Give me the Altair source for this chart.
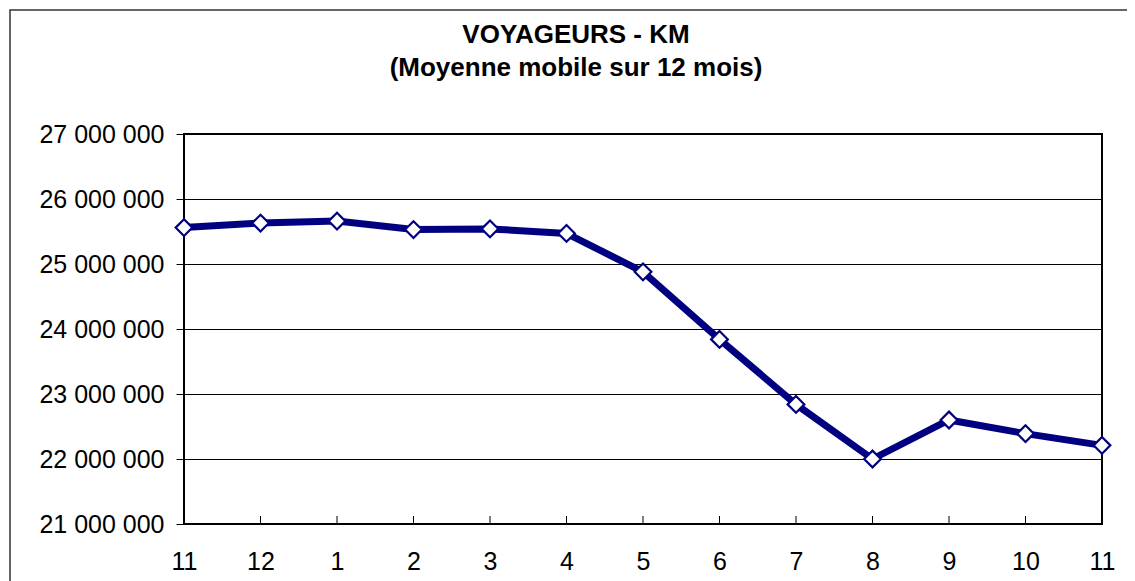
import altair as alt
import pandas as pd

FONT = "Liberation Sans, Arial, sans-serif"

months = ["11", "12", "1", "2", "3", "4", "5", "6", "7", "8", "9", "10", "11"]
values = [25560000, 25630000, 25660000, 25530000, 25540000, 25470000,
          24880000, 23840000, 22840000, 22000000, 22600000, 22390000, 22210000]
y_ticks = [21000000, 22000000, 23000000, 24000000, 25000000, 26000000, 27000000]
title_lines = ["VOYAGEURS - KM", "(Moyenne mobile sur 12 mois)"]

df = pd.DataFrame({"idx": list(range(len(months))), "month": months, "value": values})
frame = pd.DataFrame({"a": [0]})

label_expr = "[" + ",".join(f"'{m}'" for m in months) + "][datum.value]"

W, H = 918, 390
NAVY = "#000080"

x_enc = alt.X(
    "idx:Q",
    scale=alt.Scale(domain=[0, len(months) - 1], nice=False, zero=False),
    axis=alt.Axis(values=list(range(len(months))), labelExpr=label_expr, tickSize=0,
                  labelPadding=25, labelFlush=False, labelOverlap=False,
                  domain=False, grid=False, title=None,
                  labelFontSize=25, labelColor="black", labelFont=FONT),
)
y_enc = alt.Y(
    "value:Q",
    scale=alt.Scale(domain=[y_ticks[0], y_ticks[-1]], nice=False, zero=False),
    axis=alt.Axis(values=y_ticks,
                  labelExpr="replace(format(datum.value, ',d'), /,/g, ' ')",
                  tickSize=8, tickColor="black", labelPadding=12, grid=True,
                  gridColor="black", gridWidth=1, gridOpacity=1, domain=False,
                  labelFlush=False, labelOverlap=False,
                  title=None, labelFontSize=25, labelColor="black", labelFont=FONT),
)

base = alt.Chart(df)

line = base.mark_line(color=NAVY, strokeWidth=7).encode(x=x_enc, y=y_enc)
pts = base.mark_point(shape="diamond", size=280, filled=True, fill="white",
                      stroke=NAVY, strokeWidth=2.2, opacity=1).encode(x="idx:Q", y="value:Q")
ticks = base.mark_rule(color="black", strokeWidth=1).encode(
    x="idx:Q", y=alt.value(H - 8), y2=alt.value(H))

border = alt.Chart(frame).mark_rect(fill="transparent", stroke="#333333", strokeWidth=1.5).encode(
    x=alt.value(-174), x2=alt.value(980), y=alt.value(-124), y2=alt.value(480))

chart = alt.layer(border, ticks, line, pts).properties(
    width=W, height=H,
    title=alt.TitleParams(text=title_lines, fontSize=26, fontWeight="bold", font=FONT,
                          color="black", anchor="middle", dx=-67, dy=77, lineHeight=33, offset=5),
    autosize=alt.AutoSizeParams(type="none"),
    padding={"left": 176, "top": 126, "right": 25, "bottom": 57},
).configure(background="white").configure_view(stroke="black", strokeWidth=2)

chart.save("out.html", embed_options={"renderer": "svg", "actions": False})
